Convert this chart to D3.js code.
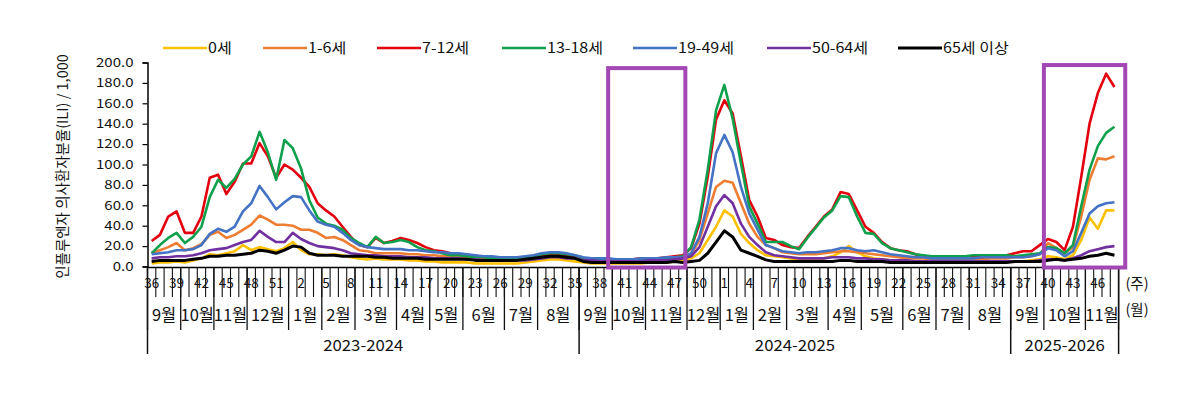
<!DOCTYPE html>
<html><head><meta charset="utf-8">
<script src="https://cdn.jsdelivr.net/npm/d3@7"></script>
<style>
body{margin:0;background:#fff;}
svg text{font-family:"Noto Sans CJK KR","Noto Sans",sans-serif;fill:#111;}
</style></head>
<body><svg id="c" width="1200" height="399"></svg>
<script>
// ---- data ----
const weeks = [].concat(
  d3.range(36,53), d3.range(1,36),
  d3.range(36,53), d3.range(1,36),
  d3.range(36,49));
const weekLabelEvery = 3;
const months = [
  ["9월",4],["10월",4],["11월",4],["12월",5],["1월",4],["2월",4],["3월",5],["4월",4],["5월",4],["6월",5],["7월",4],["8월",5],
  ["9월",4],["10월",4],["11월",5],["12월",4],["1월",4],["2월",4],["3월",5],["4월",4],["5월",5],["6월",4],["7월",4],["8월",5],
  ["9월",4],["10월",5],["11월",4]];
const seasons = [["2023-2024",52],["2024-2025",52],["2025-2026",13]];
const yTicks = [0,20,40,60,80,100,120,140,160,180,200];
const seriesNames = ["0세","1-6세","7-12세","13-18세","19-49세","50-64세","65세 이상"];
const seriesColors = ["#FFC000","#ED7D31","#E3000F","#0FA04B","#4472C4","#7030A0","#000000"];

const age0 = [3,4,4,5,4,6,8,12,11,13,15,21,16,19,17,15,18,24,16,12,12,11,12,11,9,8,7,8,7,7,7,6,6,5,5,4,4,
  4,4,3,3,3,3,3,3,4,5,6,7,7,6,5,
  4,3,3,3,3,3,3,3,4,4,4,5,6,8,13,26,39,55,49,32,23,16,11,10,9,8,7,7,7,8,10,14,20,14,10,8,7,6,6,5,5,
  5,4,4,4,4,4,4,4,4,4,5,
  5,5,6,7,10,9,7,11,26,48,37,55,55];
const age1_6 = [13,16,19,23,16,18,22,31,34,28,31,36,41,50,46,41,41,40,36,36,33,28,29,26,21,16,15,13,13,13,13,12,12,11,11,10,10,
  10,9,8,8,7,7,7,7,8,9,10,11,11,10,9,
  7,6,6,6,6,6,6,6,7,7,7,8,8,12,26,52,78,84,82,62,42,29,21,18,14,13,12,12,12,13,14,15,15,14,13,12,11,10,9,8,8,
  8,7,7,7,7,7,7,7,8,8,8,
  9,9,10,12,23,18,13,19,49,85,106,105,108];
const age7_12 = [25,31,49,54,33,33,49,87,90,71,83,101,101,121,108,87,100,95,87,78,62,55,49,39,29,21,19,28,23,25,28,26,23,19,16,15,13,
  12,11,10,9,9,8,8,8,8,9,10,11,12,11,10,
  8,7,7,7,7,7,7,8,8,8,9,10,11,18,42,88,144,163,150,108,65,49,28,26,21,19,18,29,39,49,56,73,71,55,39,33,24,18,16,15,12,
  10,9,9,9,9,9,9,9,10,10,11,
  13,15,15,21,27,24,16,39,88,140,170,189,176];
const age13_18 = [13,21,28,33,23,29,39,68,85,77,86,100,108,132,112,85,124,116,96,65,48,42,40,36,28,23,19,29,23,24,26,24,19,16,15,13,11,
  11,10,9,9,8,8,8,8,9,10,12,13,13,12,11,
  8,7,7,6,6,6,6,7,7,7,8,9,10,19,46,95,153,178,145,101,59,42,24,24,24,20,17,28,38,48,55,69,68,49,33,32,23,18,16,14,12,
  11,10,10,10,10,10,11,11,11,11,11,
  10,11,12,13,19,18,13,21,59,95,118,131,137];
const age19_49 = [12,13,14,16,16,17,21,32,37,34,39,54,62,79,68,56,63,69,68,55,44,41,39,33,26,21,19,18,17,17,17,16,16,15,14,14,13,
  13,12,11,10,10,9,9,9,10,11,13,14,14,13,11,
  9,8,8,8,7,7,7,8,8,8,9,9,9,13,29,62,111,129,112,78,52,36,21,18,15,14,13,14,14,15,16,18,18,16,15,16,14,12,11,10,9,
  9,8,8,8,8,8,8,9,9,9,9,
  9,9,10,12,18,16,10,15,33,52,59,62,63];
const age50_64 = [8,9,9,10,10,11,13,16,17,18,21,24,26,35,29,24,24,33,27,23,20,19,18,16,13,12,11,11,10,10,10,9,9,9,8,8,8,
  8,7,7,6,6,6,6,6,6,7,8,9,9,8,8,
  6,6,5,5,5,5,5,5,6,6,6,7,8,10,19,39,59,70,62,42,29,21,14,11,10,9,8,8,8,8,9,9,9,8,8,7,7,6,6,6,5,
  5,5,5,5,5,5,5,5,5,5,5,
  5,5,5,6,7,7,6,8,11,15,17,19,20];
const age65 = [5,6,6,6,6,7,8,10,10,11,11,12,13,16,15,13,16,20,19,13,11,11,11,10,10,10,10,9,9,8,8,8,8,7,7,7,7,
  7,7,6,6,6,6,6,6,7,8,9,10,10,9,8,
  5,4,4,4,4,4,4,4,4,4,4,5,4,5,6,13,24,35,29,16,13,10,6.5,5,5,5,5,5,5,5,5,6,6,5,5,5,5,4,4,4,4,
  4,4,4,4,4,4,4,4,4,4,4,
  5,5,5,5,6,7,6,7,8,10,11,13,11];
const seriesValues = [age0,age1_6,age7_12,age13_18,age19_49,age50_64,age65];
// highlighted ranges (category index spans)
const highlights = [[55.5,64.8],[108,117.8]];

// ---- chart ----
const svg = d3.select("#c");
const N = weeks.length;
const plotL = 147.5, plotR = 1118.6, yTop = 62.5, yBot = 266.5;
const x = d3.scaleBand().domain(d3.range(N)).range([plotL, plotR]).padding(0);
const xb = d3.scaleLinear().domain([0,N]).range([plotL, plotR]);
const y = d3.scaleLinear().domain([0,200]).range([yBot, yTop]);
const cx = i => x(i) + x.bandwidth()/2;

// y axis
const yAxis = svg.append("g").attr("transform",`translate(${plotL},0)`)
  .call(d3.axisLeft(y).tickValues(yTicks).tickFormat(d=>d.toFixed(1)).tickSize(5).tickPadding(9));
yAxis.select(".domain").attr("stroke","#000").attr("stroke-width",1.5);
yAxis.selectAll(".tick line").attr("stroke","#000").attr("stroke-width",1.2);
yAxis.selectAll(".tick text").attr("font-size",12).attr("fill","#111")
  .attr("font-family",'"DejaVu Sans",sans-serif')
  .each(function(){ const t=d3.select(this); const xx=+t.attr("x"); t.attr("x",null).attr("transform",`translate(${xx},0) scale(1.25,1)`); });

// y title
svg.append("text").attr("transform",`translate(64,${(yTop+yBot)/2+2}) rotate(-90)`)
  .attr("text-anchor","middle").attr("dominant-baseline","middle").attr("font-size",14.5)
  .text("인플루엔자 의사환자분율(ILI) / 1,000");

// x axis base line
svg.append("line").attr("x1",plotL).attr("x2",plotR).attr("y1",yBot+1).attr("y2",yBot+1).attr("stroke","#000").attr("stroke-width",1.5);
// week ticks
const gx = svg.append("g");
gx.selectAll("line.wk").data(d3.range(1,N)).join("line")
  .attr("x1",d=>xb(d)).attr("x2",d=>xb(d)).attr("y1",yBot+1).attr("y2",297)
  .attr("stroke","#111").attr("stroke-width",1.1);
gx.selectAll("text.wk").data(d3.range(0,N,weekLabelEvery)).join("text")
  .attr("transform",d=>`translate(${cx(d)},288)`).attr("text-anchor","middle")
  .attr("font-size",13.5).text(d=>weeks[d]);
// month boundaries & labels
let acc=0; const mb=[];
months.forEach(m=>{ mb.push({name:m[0], s:acc, e:acc+m[1]}); acc+=m[1]; });
gx.selectAll("line.mo").data(mb.map(d=>d.s).concat([N])).join("line")
  .attr("x1",d=>xb(d)).attr("x2",d=>xb(d)).attr("y1",yBot+1).attr("y2",330)
  .attr("stroke","#111").attr("stroke-width",1.3);
gx.selectAll("text.mo").data(mb).join("text")
  .attr("x",d=>(xb(d.s)+xb(d.e))/2).attr("y",321).attr("text-anchor","middle")
  .attr("font-size",16.5).text(d=>d.name);
// seasons
acc=0; const sb=[];
seasons.forEach(s=>{ sb.push({name:s[0], s:acc, e:acc+s[1]}); acc+=s[1]; });
gx.selectAll("line.se").data(sb.map(d=>d.s).concat([N])).join("line")
  .attr("x1",d=>xb(d)).attr("x2",d=>xb(d)).attr("y1",yBot+1).attr("y2",354)
  .attr("stroke","#111").attr("stroke-width",1.5);
gx.selectAll("text.se").data(sb).join("text")
  .attr("transform",d=>`translate(${(xb(d.s)+xb(d.e))/2},351) scale(1.08,1)`).attr("text-anchor","middle")
  .attr("font-size",15.5).text(d=>d.name);
svg.append("text").attr("x",1137).attr("y",289).attr("text-anchor","middle").attr("font-size",14.5).text("(주)");
svg.append("text").attr("x",1137).attr("y",315).attr("text-anchor","middle").attr("font-size",14.5).text("(월)");

// lines
const line = d3.line().x((d,i)=>cx(i)).y(d=>y(d)).curve(d3.curveLinear);
svg.append("g").selectAll("path").data(seriesValues).join("path")
  .attr("d",d=>line(d)).attr("fill","none")
  .attr("stroke",(d,i)=>seriesColors[i]).attr("stroke-width",(d,i)=>i===6?3:2.6)
  .attr("stroke-linejoin","round");

// highlight boxes
svg.append("g").selectAll("rect").data(highlights).join("rect")
  .attr("x",d=>xb(d[0])).attr("width",d=>xb(d[1])-xb(d[0]))
  .attr("y",(d,i)=>y(i===0?194.5:197.5)).attr("height",(d,i)=>y(-1)-y(i===0?194.5:197.5))
  .attr("fill","none").attr("stroke","#A347B5").attr("stroke-width",4);

// legend
const legX = [163,263,377,502,633,767,898];
const lg = svg.append("g").selectAll("g").data(seriesNames).join("g")
  .attr("transform",(d,i)=>`translate(${legX[i]},48)`);
lg.append("line").attr("x1",0).attr("x2",44).attr("y1",0).attr("y2",0)
  .attr("stroke",(d,i)=>seriesColors[i]).attr("stroke-width",(d,i)=>i===6?3:2.6);
lg.append("text").attr("transform","translate(45,5) scale(1.15,1)").attr("font-size",14).text(d=>d);
</script></body></html>
